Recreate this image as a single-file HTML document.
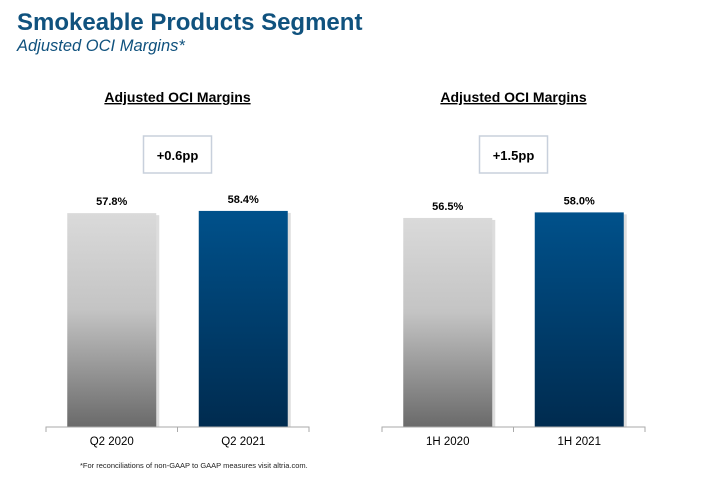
<!DOCTYPE html>
<html><head><meta charset="utf-8"><style>
body{margin:0;width:713px;height:488px;background:#fff;font-family:"Liberation Sans",Arial,sans-serif;position:relative;overflow:hidden}
.t{position:absolute;white-space:nowrap}
</style></head><body>
<div class="t" style="left:17px;top:9px;font-size:24px;font-weight:bold;color:#10527e">Smokeable Products Segment</div>
<div class="t" style="left:17px;top:37px;font-size:16.5px;font-style:italic;color:#10527e">Adjusted OCI Margins*</div>
<svg id="c" width="713" height="488" style="position:absolute;left:0;top:0">
<defs>
<linearGradient id="g" x1="0" y1="0" x2="0" y2="1"><stop offset="0" stop-color="#dadada"/><stop offset="0.45" stop-color="#c4c4c4"/><stop offset="1" stop-color="#6a6a6a"/></linearGradient>
<linearGradient id="b" x1="0" y1="0" x2="0" y2="1"><stop offset="0" stop-color="#00518b"/><stop offset="1" stop-color="#002b4f"/></linearGradient>
</defs>
</svg>
<div class="t" style="left:80px;top:461px;font-size:7.5px;color:#222">*For reconciliations of non-GAAP to GAAP measures visit altria.com.</div>
<script>
const panels=["Q2","1H"];
const titles=["Adjusted OCI Margins","Adjusted OCI Margins"];
const deltas=["+0.6pp","+1.5pp"];
const categories=[["Q2 2020","Q2 2021"],["1H 2020","1H 2021"]];
const values=[[57.8,58.4],[56.5,58.0]];
const labels=[["57.8%","58.4%"],["56.5%","58.0%"]];
const svg=document.getElementById('c');
const NS='http://www.w3.org/2000/svg';
const base=427,k=3.7;
const y=v=>base-v*k;
function mk(t,a){const e=document.createElementNS(NS,t);for(const q in a)e.setAttribute(q,a[q]);svg.appendChild(e);return e;}
const origins=[46,382];
panels.forEach((p,i)=>{
 const x0=origins[i],w=263,mid=x0+w/2;
 const ti=mk('text',{x:mid,y:102,'text-anchor':'middle','font-size':14,'font-weight':'bold','text-decoration':'underline'});ti.textContent=titles[i];
 
 
 const bx=mk('rect',{x:mid-34,y:136,width:68,height:37,fill:'#fff',stroke:'#c8d0dc','stroke-width':1.5});
 
 
 const dt=mk('text',{x:mid,y:160,'text-anchor':'middle','font-size':13,'font-weight':'bold'});dt.textContent=deltas[i];
 
 
 values[i].forEach((v,j)=>{
  const cx=x0+w*(j*2+1)/4,bw=89;
  const sh=mk('rect',{x:cx-bw/2+3,y:y(v)+2,width:bw,height:base-y(v)-2,fill:'#bbb',opacity:0.5});
  
  
  const r=mk('rect',{x:cx-bw/2,y:y(v),width:bw,height:base-y(v),fill:j?'url(#b)':'url(#g)'});
  
  
  const lt=mk('text',{x:cx,y:y(v)-8,'text-anchor':'middle','font-size':11,'font-weight':'bold'});lt.textContent=labels[i][j];
  
  
  const ct=mk('text',{x:cx,y:445,'text-anchor':'middle','font-size':11.5});ct.textContent=categories[i][j];
  
  
 });
 const ax=mk('path',{d:`M${x0} 432V427H${x0+w}V432M${mid} 427V432`,stroke:'#aaa',fill:'none','stroke-width':1});
 
 
});
</script>
</body></html>
